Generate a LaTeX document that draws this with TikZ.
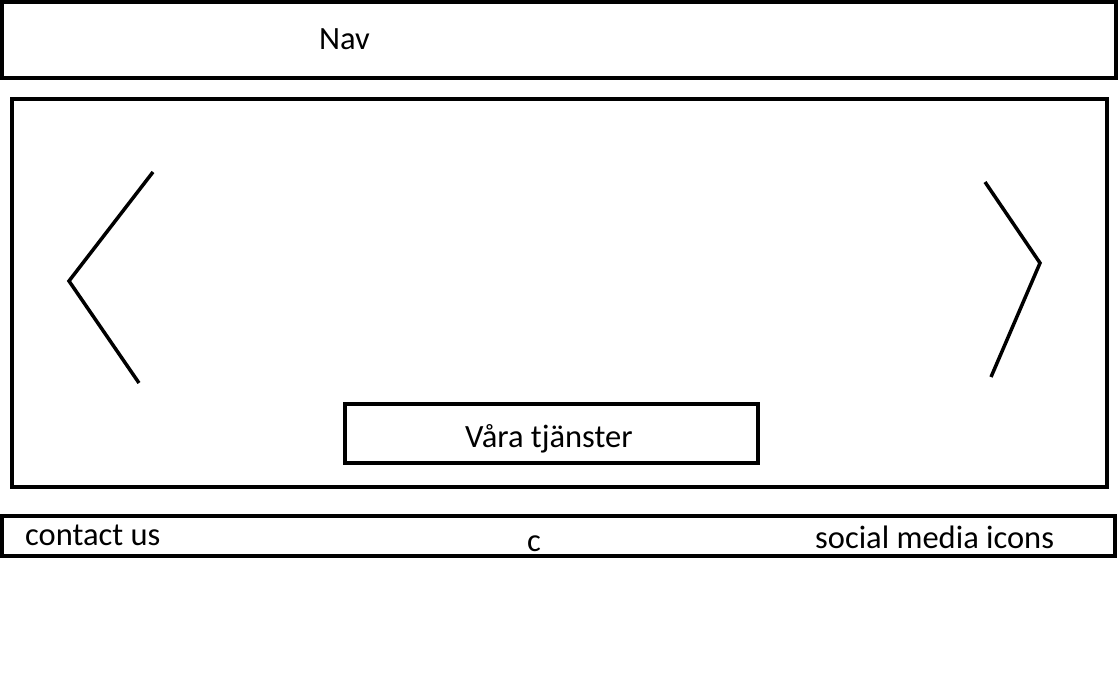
\documentclass[tikz,border=0pt]{standalone}
\usepackage{fontspec}
\setmainfont{Carlito}
\begin{document}
\begin{tikzpicture}[x=1pt,y=-1pt,
  frame/.style={draw=black,line width=4pt},
  chev/.style={draw=black,line width=3.5pt},
  lbl/.style={anchor=base west,inner sep=0pt,font=\fontsize{32.5}{36}\selectfont}]
\useasboundingbox[fill=white] (0,0) rectangle (1118,677);
\draw[frame] (2,2.5) rectangle (1116,77.5);
\draw[frame] (12,99) rectangle (1107,487);
\draw[frame] (2,515.5) rectangle (1115,555.5);
\draw[frame] (345,404) rectangle (758,463);
\node[lbl] (nav) at (319,50) {Nav};
\node[lbl] (svc) at (465,447) {Våra tjänster};
\node[lbl] (contact) at (25,545) {contact us};
\node[lbl] (c) at (527,551) {c};
\node[lbl] (social) at (815,548) {social media icons};
\coordinate (l1) at (153,172);
\coordinate (l2) at (69,281);
\coordinate (l3) at (139,383);
\coordinate (r1) at (985,182);
\coordinate (r2) at (1040,263);
\coordinate (r3) at (991,377);
\draw[chev] (l1) -- (l2) -- (l3);
\draw[chev] (r1) -- (r2) -- (r3);
\end{tikzpicture}
\end{document}
